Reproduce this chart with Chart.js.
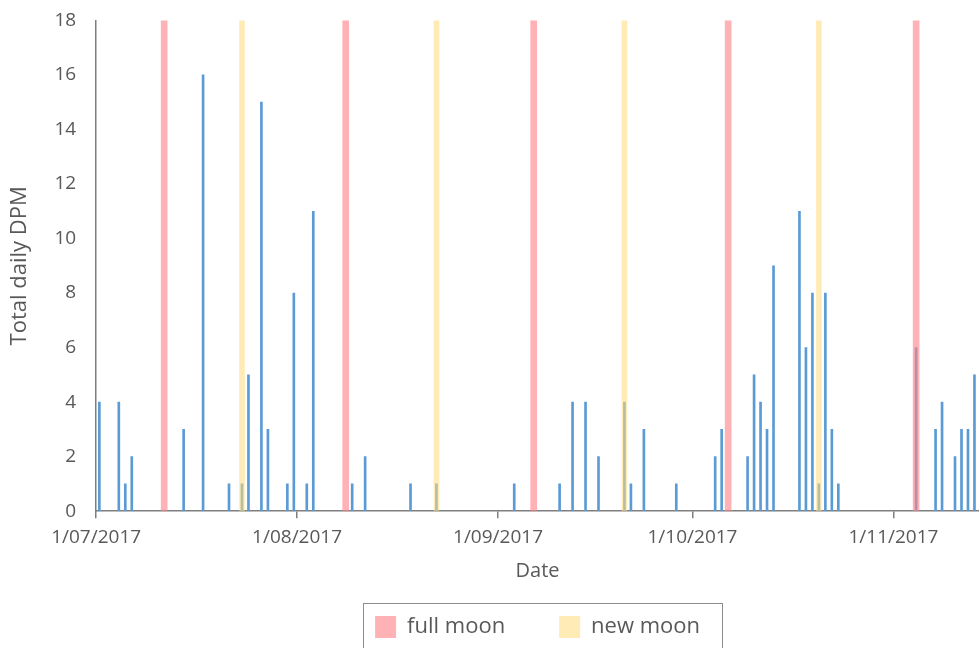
<!DOCTYPE html>
<html>
<head>
<meta charset="utf-8">
<script src="https://cdn.jsdelivr.net/npm/chart.js@4.4.0/dist/chart.umd.min.js"></script>
<style>
  html, body { margin: 0; padding: 0; background: #fff; overflow: hidden; }
</style>
</head>
<body>
<canvas id="myChart" width="979" height="648"></canvas>
<script>
// days counted from 1/07/2017 (day 0)
const dpmDays = [0, 3, 4, 5, 13, 16, 20, 22, 23, 25, 26, 29, 30, 32, 33, 39, 41, 48, 52,
    64, 71, 73, 75, 77, 81, 82, 84, 89, 95, 96, 100, 101, 102, 103, 104, 108, 109, 110,
    111, 112, 113, 114, 126, 129, 130, 132, 133, 134, 135];
const dpmValues = [4, 4, 1, 2, 3, 16, 1, 1, 5, 15, 3, 1, 8, 1, 11, 1, 2, 1, 1,
    1, 1, 4, 4, 2, 4, 1, 3, 1, 2, 3, 2, 5, 4, 3, 9, 11, 6, 8,
    1, 8, 3, 1, 6, 3, 4, 2, 3, 3, 5];

const fullMoonDays = [10, 38, 67, 97, 126];
const fullMoonValues = [18, 18, 18, 18, 18];
const newMoonDays = [22, 52, 81, 111];
const newMoonValues = [18, 18, 18, 18];

const tickDays = [0, 31, 62, 92, 123];
const tickLabels = ["1/07/2017", "1/08/2017", "1/09/2017", "1/10/2017", "1/11/2017"];

const toPoints = (days, vals) => days.map((d, i) => ({ x: d, y: vals[i] }));

Chart.defaults.font.family = "'Open Sans', 'DejaVu Sans', sans-serif";
Chart.defaults.color = "#595959";

// border round the legend, like the excel one
const legendBorder = {
    id: "legendBorder",
    afterDraw(chart) {
        const lg = chart.legend;
        if (!lg || !lg.legendHitBoxes.length) return;
        const hb = lg.legendHitBoxes;
        const last = hb[hb.length - 1];
        const ctx = chart.ctx;
        const left = hb[0].left - 12;
        const top = hb[0].top - 13;
        const right = last.left + last.width + 22;
        ctx.save();
        ctx.strokeStyle = "#8c8c8c";
        ctx.lineWidth = 1;
        ctx.strokeRect(Math.round(left) + 0.5, Math.round(top) + 0.5,
            Math.round(right - left), chart.height + 10);
        ctx.restore();
    },
};

const ctx = document.getElementById("myChart");

new Chart(ctx, {
    type: "bar",
    data: {
        datasets: [
            {
                label: "full moon",
                data: toPoints(fullMoonDays, fullMoonValues),
                backgroundColor: "rgba(255, 130, 136, 0.62)",
                borderWidth: 0,
                barThickness: 6,
                grouped: false,
            },
            {
                label: "new moon",
                data: toPoints(newMoonDays, newMoonValues),
                backgroundColor: "rgba(255, 218, 120, 0.55)",
                borderWidth: 0,
                barThickness: 5,
                grouped: false,
            },
            {
                label: "Total daily DPM",
                data: toPoints(dpmDays, dpmValues),
                backgroundColor: "#5B9BD5",
                borderWidth: 0,
                barThickness: 2,
                grouped: false,
            },
        ],
    },
    options: {
        responsive: false,
        animation: false,
        layout: { padding: { top: 9, right: 0, bottom: 0, left: 0 } },
        plugins: {
            tooltip: { enabled: false },
            legend: {
                position: "bottom",
                fullSize: false,
                labels: {
                    filter: (item) => item.datasetIndex < 2,
                    boxWidth: 21,
                    boxHeight: 22,
                    padding: 54,
                    color: "#595959",
                    font: { size: 22 },
                },
            },
        },
        scales: {
            x: {
                type: "linear",
                min: -0.5,
                max: 135.7,
                offset: false,
                afterBuildTicks: (axis) => {
                    axis.ticks = tickDays.map((d) => ({ value: d - 0.5 }));
                },
                ticks: {
                    callback: (v, i) => tickLabels[i],
                    maxRotation: 0,
                    autoSkip: false,
                    padding: 8,
                    font: { size: 19 },
                },
                grid: {
                    display: true,
                    offset: false,
                    drawOnChartArea: false,
                    drawTicks: true,
                    tickLength: 7,
                    color: "#7f7f7f",
                    lineWidth: 1.5,
                },
                border: { display: true, color: "#7f7f7f", width: 1.5 },
                title: {
                    display: true,
                    text: "Date",
                    font: { size: 20 },
                    padding: { top: 2, bottom: -21 },
                },
            },
            y: {
                min: 0,
                max: 18,
                // small padding keeps the top of the axis at 18, tickLength adds the gap
                ticks: { stepSize: 2, padding: 9, font: { size: 19 } },
                grid: { display: false, drawTicks: true, tickLength: 11 },
                border: { display: true, color: "#7f7f7f", width: 1.5 },
                title: {
                    display: true,
                    text: "Total daily DPM",
                    font: { size: 22 },
                    padding: { top: 7, bottom: 12 },
                },
            },
        },
    },
    plugins: [legendBorder],
});
</script>
</body>
</html>
